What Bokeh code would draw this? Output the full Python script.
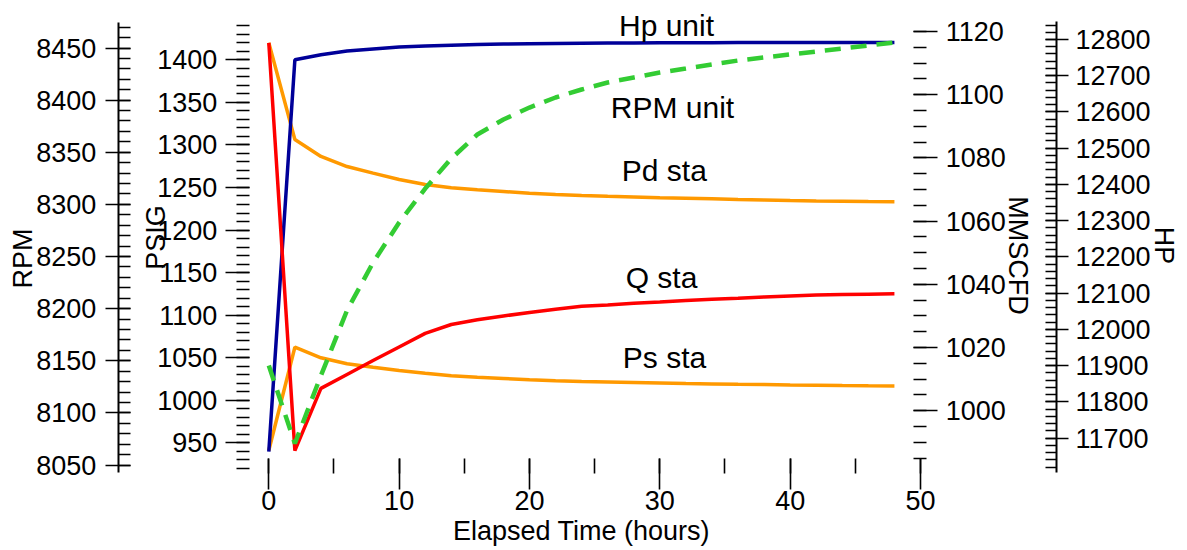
import math
from bokeh.plotting import figure
from bokeh.models import Range1d, LinearAxis, FixedTicker, Label
from bokeh.embed import file_html
from bokeh.resources import INLINE

# ---------------- data ----------------
hours = [0, 2, 4, 6, 8, 10, 12, 14, 16, 18, 20, 22, 24,
         26, 28, 30, 32, 34, 36, 38, 40, 42, 44, 46, 48]

hp_unit = [11663, 12744, 12758, 12768, 12774, 12779, 12782, 12784, 12786, 12787.6, 12788.4, 12789, 12789.5,
           12790, 12790.4, 12790.7, 12791, 12791.2, 12791.4, 12791.5, 12791.6, 12791.7, 12791.8, 12791.9, 12792]

rpm_unit = [8145.4, 8070.6, 8135.8, 8198.2, 8244.2, 8282.6, 8315.2, 8344, 8367, 8381.4, 8392.9, 8402.5, 8410.2,
            8416.9, 8421.7, 8426.5, 8430.3, 8434.2, 8438, 8440.9, 8443.8, 8446.6, 8449.5, 8452.4, 8455.3]

pd_sta = [1420, 1306.4, 1286.4, 1274.6, 1266.8, 1259.4, 1253.5, 1249.6, 1247.3, 1245.3, 1243.3, 1241.8, 1240.6,
          1239.6, 1238.8, 1238, 1237.3, 1236.6, 1235.9, 1235.3, 1234.7, 1234.2, 1233.8, 1233.4, 1233.1]

ps_sta = [941, 1062.3, 1049.9, 1042.8, 1038.8, 1035, 1031.8, 1028.7, 1027.1, 1025.6, 1024, 1022.9, 1022,
          1021.5, 1020.9, 1020.3, 1019.7, 1019.2, 1018.7, 1018.4, 1018, 1017.7, 1017.3, 1017, 1016.8]

q_sta = [1116.4, 987.4, 1007.1, 1011.5, 1015.9, 1020.2, 1024.5, 1027.3, 1028.8, 1030, 1031.1, 1032.1, 1033.1,
         1033.5, 1034, 1034.4, 1034.9, 1035.3, 1035.6, 1036, 1036.3, 1036.6, 1036.8, 1036.9, 1037]

x_ticks = [0, 10, 20, 30, 40, 50]
x_minor = [0, 5, 10, 15, 20, 25, 30, 35, 40, 45, 50]
rpm_ticks = list(range(8050, 8451, 50))
rpm_minor = list(range(8050, 8471, 10))
psig_ticks = list(range(950, 1401, 50))
psig_minor = list(range(920, 1441, 10))
mmscfd_ticks = list(range(1000, 1121, 20))
mmscfd_minor = list(range(985, 1121, 5))
hp_ticks = list(range(11700, 12801, 100))
hp_minor = list(range(11620, 12841, 20))

# ---------------- layout helpers ----------------
W, H = 1187, 550
X0_PX, PX_PER_H = 268.3, 13.034
FONT = "Liberation Sans"
TICK_SIZE = "27px"


def h_at(px):
    return (px - X0_PX) / PX_PER_H


def y_at(py):
    return H - py


def y_range(v_top, py_top, v_bot, py_bot):
    k = (py_bot - py_top) / (v_top - v_bot)
    return Range1d(v_bot - (H - py_bot) / k, v_top + py_top / k)


p = figure(width=W, height=H, output_backend="svg", toolbar_location=None,
           x_axis_type=None, y_axis_type=None, min_border=0,
           x_range=Range1d(h_at(0), h_at(W)), y_range=Range1d(0, H))
p.outline_line_color = None
p.grid.visible = False
p.background_fill_color = "white"
p.border_fill_color = "white"

p.extra_y_ranges = {
    "rpm": y_range(8450, 47.5, 8050, 464.5),
    "psig": y_range(1400, 59.3, 950, 442.3),
    "mmscfd": y_range(1120, 31, 1000, 410.3),
    "hp": y_range(12800, 39, 11700, 437.7),
}


def style(ax, line=True):
    ax.major_label_text_font = FONT
    ax.major_label_text_font_size = TICK_SIZE
    ax.major_label_text_color = "black"
    ax.major_tick_line_color = "black"
    ax.minor_tick_line_color = "black"
    ax.major_tick_line_width = 1.6
    ax.minor_tick_line_width = 1.6
    ax.axis_line_width = 2
    ax.axis_line_color = "black" if line else None
    ax.axis_label = None


# RPM axis (far left)
ax_rpm = LinearAxis(y_range_name="rpm", fixed_location=h_at(117.7),
                    ticker=FixedTicker(ticks=rpm_ticks, minor_ticks=rpm_minor),
                    bounds=(8043, 8474.8))
style(ax_rpm)
ax_rpm.major_tick_out = 13
ax_rpm.major_tick_in = 12
ax_rpm.minor_tick_out = 0
ax_rpm.minor_tick_in = 12
ax_rpm.major_label_standoff = 9
p.add_layout(ax_rpm, "left")

# PSIG axis (inner left, no spine)
ax_psig = LinearAxis(y_range_name="psig", fixed_location=h_at(235.7),
                     ticker=FixedTicker(ticks=psig_ticks, minor_ticks=psig_minor),
                     bounds=(920, 1440))
style(ax_psig, line=False)
ax_psig.major_tick_out = 11
ax_psig.major_tick_in = 13
ax_psig.minor_tick_out = 0
ax_psig.minor_tick_in = 13
ax_psig.major_label_standoff = 8
p.add_layout(ax_psig, "left")

# MMSCFD axis (inner right, no spine)
ax_mm = LinearAxis(y_range_name="mmscfd", fixed_location=h_at(913.3),
                   ticker=FixedTicker(ticks=mmscfd_ticks, minor_ticks=mmscfd_minor),
                   bounds=(985, 1120))
style(ax_mm, line=False)
ax_mm.major_tick_out = 24
ax_mm.major_tick_in = 0
ax_mm.minor_tick_out = 13
ax_mm.minor_tick_in = 0
ax_mm.major_label_standoff = 8
p.add_layout(ax_mm, "right")

# HP axis (far right)
ax_hp = LinearAxis(y_range_name="hp", fixed_location=h_at(1056),
                   ticker=FixedTicker(ticks=hp_ticks, minor_ticks=hp_minor),
                   bounds=(11606, 12850))
style(ax_hp)
ax_hp.major_tick_out = 12
ax_hp.major_tick_in = 11
ax_hp.minor_tick_out = 0
ax_hp.minor_tick_in = 11
ax_hp.major_label_standoff = 7
p.add_layout(ax_hp, "right")

# X axis (no spine)
ax_x = LinearAxis(fixed_location=y_at(457.7),
                  ticker=FixedTicker(ticks=x_ticks, minor_ticks=x_minor),
                  bounds=(0, 50))
style(ax_x, line=False)
ax_x.major_tick_out = 31
ax_x.major_tick_in = 0
ax_x.minor_tick_out = 15
ax_x.minor_tick_in = 0
ax_x.major_label_standoff = 2
p.add_layout(ax_x, "below")

# ---------------- series ----------------
ORANGE = "#FF9900"
p.line(hours, pd_sta, y_range_name="psig", line_color=ORANGE, line_width=3.5)
p.line(hours, ps_sta, y_range_name="psig", line_color=ORANGE, line_width=3.5)
p.line(hours, hp_unit, y_range_name="hp", line_color="#000099", line_width=3.5)
p.line(hours, q_sta, y_range_name="mmscfd", line_color="#FF0000", line_width=3.5)
p.line(hours, rpm_unit, y_range_name="rpm", line_color="#33CC33", line_width=4.5,
       line_dash="16 10")


# ---------------- texts ----------------
def label(text, px, py, size="30px", angle=0.0):
    p.add_layout(Label(x=h_at(px), y=y_at(py), text=text, angle=angle,
                       text_align="center", text_baseline="middle",
                       text_font=FONT, text_font_size=size, text_color="black"))


label("Hp unit", 666, 25)
label("RPM unit", 672, 107)
label("Pd  sta", 668, 170)
label("Q sta", 661, 277)
label("Ps sta", 664, 357)
label("Elapsed Time (hours)", 581, 530, size="27px")
label("RPM", 22, 258, size="27px", angle=math.pi / 2)
label("PSIG", 155, 237, size="27px", angle=math.pi / 2)
label("MMSCFD", 1017, 255, size="27px", angle=-math.pi / 2)
label("HP", 1163, 245, size="27px", angle=-math.pi / 2)

open("out.html", "w").write(file_html(p, INLINE))
